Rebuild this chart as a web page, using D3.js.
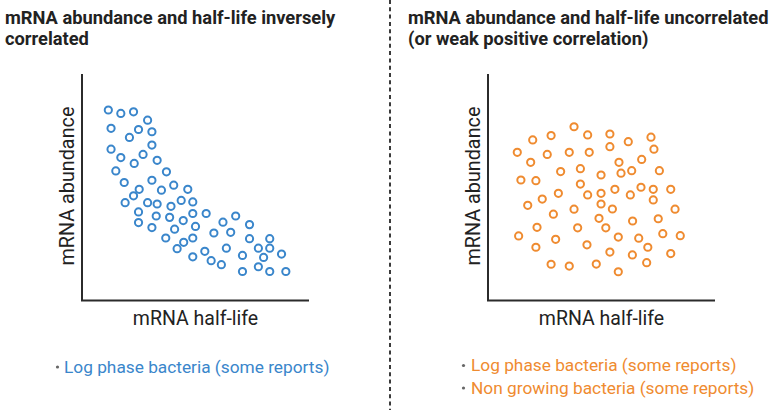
<!DOCTYPE html>
<html><head><meta charset="utf-8">
<script src="https://cdn.jsdelivr.net/npm/d3@7"></script>
<style>body{margin:0;background:#fff}svg{display:block;font-family:Roboto,"Noto Sans",sans-serif}</style>
</head><body><svg id="c" width="777" height="410"></svg>
<script>
const titleLeft = ["mRNA abundance and half-life inversely", "correlated"];
const titleRight = ["mRNA abundance and half-life uncorrelated", "(or weak positive correlation)"];
const xLabel = "mRNA half-life";
const yLabel = "mRNA abundance";
const legendLeft = ["Log phase bacteria (some reports)"];
const legendRight = ["Log phase bacteria (some reports)", "Non growing bacteria (some reports)"];

const blueX = [11.6,17.1,22.7,28.9,12.8,24.9,30.8,20.9,30.8,12.8,26.9,17.1,33.1,23.0,14.9,37.2,30.8,18.6,40.4,25.2,46.6,35.0,22.7,43.7,19.0,28.9,33.1,48.8,39.2,24.9,48.8,54.7,32.7,38.6,67.7,44.6,62.1,24.9,73.8,50.0,30.8,40.8,58.1,65.5,36.9,48.8,73.8,82.7,44.8,41.9,63.6,77.7,82.7,54.1,87.9,70.7,48.8,80.0,56.9,61.4,77.7,70.7,82.7,89.8];
const blueY = [84.1,82.6,83.3,79.6,76.0,75.5,74.5,72.0,68.6,66.8,64.5,63.1,61.9,60.5,57.2,56.8,53.1,52.1,50.9,49.1,49.1,48.7,46.2,44.2,43.2,43.2,42.6,43.5,41.6,39.1,38.4,38.4,37.3,36.7,37.3,35.3,34.6,34.4,33.5,32.7,32.2,31.5,29.8,30.1,27.6,27.6,27.3,27.3,25.7,22.9,23.1,23.1,23.1,21.7,20.5,19.9,19.3,19.0,17.6,15.8,14.9,12.8,12.8,12.8];
const orangeX = [37.9,19.7,27.8,43.9,53.7,61.8,71.8,12.9,26.1,35.8,44.6,53.7,73.1,18.8,57.7,67.7,32.0,40.7,49.8,58.6,63.3,75.5,14.5,21.1,40.7,31.0,43.9,49.8,55.9,62.7,67.4,72.8,80.5,23.9,17.5,49.8,72.8,54.8,37.9,28.8,82.4,48.9,63.7,75.0,21.6,39.5,51.9,13.5,29.8,57.4,66.4,77.0,84.7,21.1,43.6,53.7,70.4,63.6,80.5,27.8,35.8,47.7,69.9,57.4];
const orangeY = [76.7,70.9,72.8,73.1,73.5,70.1,72.1,65.4,64.5,65.4,65.4,67.9,66.8,61.0,61.0,62.3,56.9,58.2,55.4,56.2,57.3,57.3,53.2,52.9,51.4,47.3,46.6,47.3,49.1,46.6,50.0,49.1,49.1,44.8,42.0,42.6,44.4,40.4,40.3,38.1,40.3,36.3,35.1,36.1,32.3,32.1,32.1,28.5,27.0,28.0,27.5,29.5,28.6,23.5,24.6,21.4,23.5,20.1,20.7,16.0,15.2,16.1,16.7,12.7];

const svg = d3.select("#c");
const BLUE = "#3a86cb", ORANGE = "#ef8b30", AXIS = "#2b2b2b", TXT = "#222";

// divider
svg.append("line").attr("x1",390).attr("x2",390).attr("y1",0).attr("y2",410)
  .attr("stroke","#3a3a3a").attr("stroke-width",2).attr("stroke-dasharray","4,3.3");

function title(lines, x){
  const t = svg.append("text").attr("x",x).attr("y",24).attr("font-size",18.3).attr("font-weight",700).attr("fill",TXT);
  lines.forEach((l,i)=>t.append("tspan").attr("x",x).attr("y",24+i*21).text(l));
}
title(titleLeft, 5);
title(titleRight, 408);

function panel(ox, xs, ys, color, legend, legendX, bulletX, legendY0){
  const x = d3.scaleLinear().domain([0,100]).range([ox, ox+227]);
  const y = d3.scaleLinear().domain([0,100]).range([300.5, 74]);
  const g = svg.append("g");
  g.append("path").attr("d", `M${x(0)},${y(100)}V${y(0)}H${x(100)}`)
    .attr("fill","none").attr("stroke",AXIS).attr("stroke-width",2);
  g.selectAll("circle.pt").data(xs.map((v,i)=>[v,ys[i]])).join("circle")
    .attr("class","pt").attr("cx",d=>x(d[0])).attr("cy",d=>y(d[1])).attr("r",3.6)
    .attr("fill","none").attr("stroke",color).attr("stroke-width",2);
  g.append("text").attr("x", x(50)).attr("y",324.5).attr("text-anchor","middle")
    .attr("font-size",19.5).attr("fill",TXT).text(xLabel);
  g.append("text").attr("transform",`translate(${ox-8},${y(50.5)}) rotate(-90)`)
    .attr("text-anchor","middle").attr("font-size",19.8).attr("fill",TXT).text(yLabel);
  legend.forEach((l,i)=>{
    const yy = legendY0 + i*22.5;
    g.append("circle").attr("cx",bulletX).attr("cy",yy-5.5).attr("r",1.6).attr("fill","#666");
    g.append("text").attr("x",legendX).attr("y",yy).attr("font-size",17.3).attr("fill",color).text(l);
  });
}
panel(82, blueX, blueY, BLUE, legendLeft, 64, 57.5, 372.5);
panel(488, orangeX, orangeY, ORANGE, legendRight, 471, 463.5, 371);
</script></body></html>
